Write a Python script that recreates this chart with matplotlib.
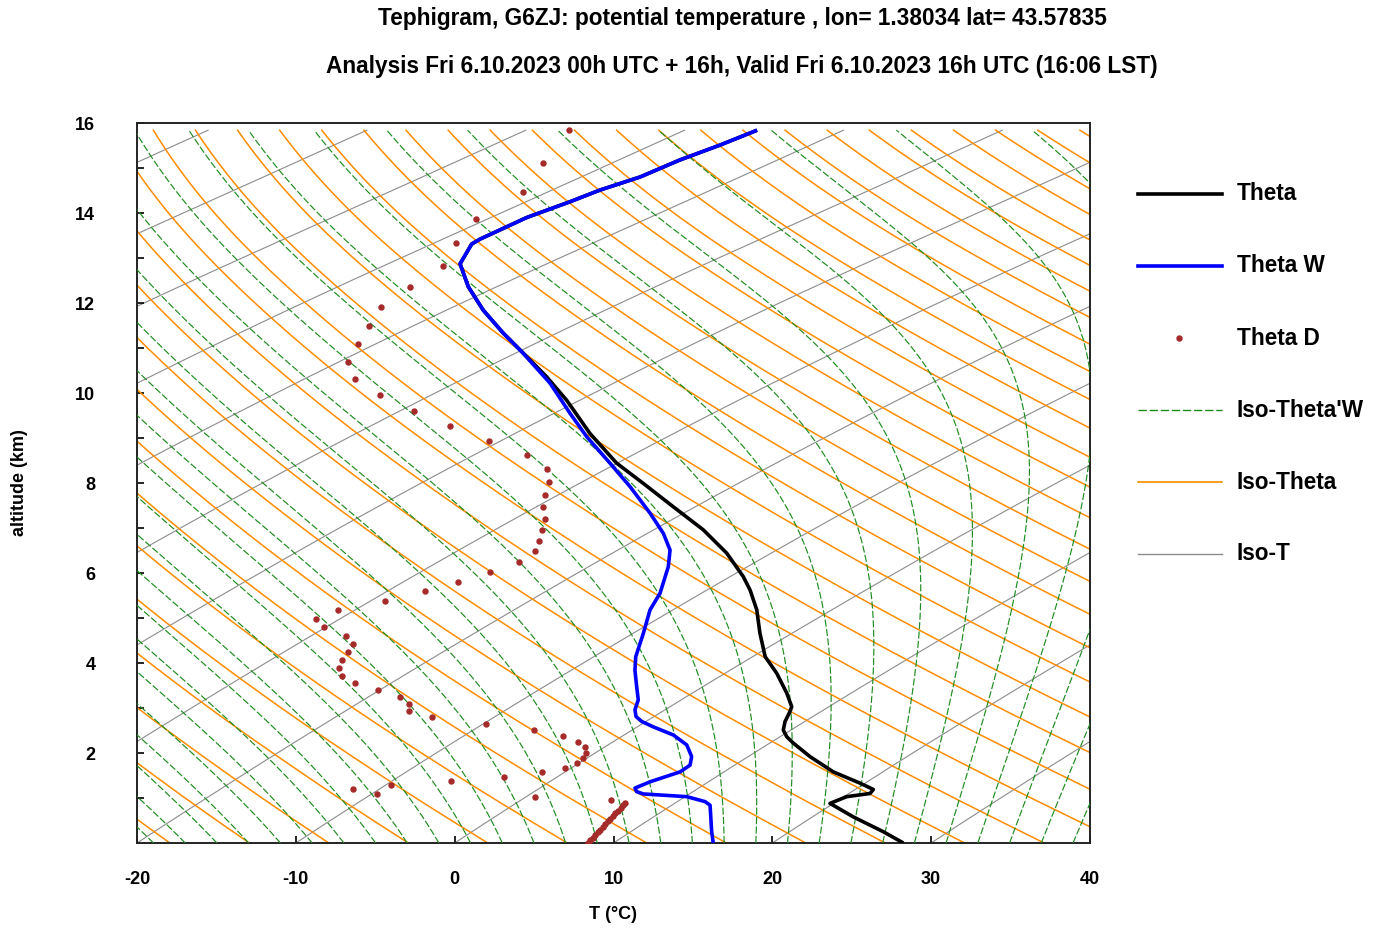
import numpy as np
import matplotlib
matplotlib.use("Agg")
import matplotlib.pyplot as plt
from matplotlib.lines import Line2D

plt.rcParams['font.family'] = ['Liberation Sans', 'DejaVu Sans']
plt.rcParams['font.weight'] = 'bold'

# ---------------- data ----------------
theta_z = [0.0, 0.25, 0.58, 0.88, 1.03, 1.10, 1.19, 1.33, 1.58, 1.92, 2.22, 2.36, 2.51,
           2.70, 2.92, 3.03, 3.33, 3.77, 4.14, 4.66, 5.18, 5.62, 5.92, 6.44, 6.96, 7.47,
           7.99, 8.44, 9.10, 9.84, 10.36, 10.96, 11.33, 11.84, 12.36, 12.87, 13.31, 13.42,
           13.90, 14.25, 14.51, 14.80, 15.18, 15.51, 15.84]
theta_x = [28.25, 26.99, 25.10, 23.63, 24.68, 26.15, 26.36, 25.52, 23.84, 22.37, 21.32,
           20.91, 20.69, 20.80, 21.11, 21.22, 20.91, 20.28, 19.55, 19.22, 19.02, 18.6,
           18.17, 17.13, 15.65, 13.77, 11.88, 10.20, 8.52, 7.05, 5.79, 4.11, 3.06, 1.80,
           0.86, 0.34, 1.07, 1.60, 4.54, 7.26, 9.15, 11.67, 14.19, 16.71, 19.04]

thetaw_z = [0.0, 0.25, 0.84, 0.92, 1.03, 1.09, 1.14, 1.22, 1.36, 1.58, 1.73, 1.92, 2.18,
            2.40, 2.58, 2.70, 2.81, 2.96, 3.18, 3.47, 3.84, 4.14, 4.66, 5.18, 5.55, 6.14,
            6.51, 6.88, 7.33, 7.92, 8.44, 9.03, 9.55, 10.22, 10.88, 11.33, 11.84, 12.36,
            12.87, 13.31, 13.42, 13.90, 14.25, 14.51, 14.80, 15.18, 15.51, 15.84]
thetaw_x = [16.28, 16.18, 16.08, 15.76, 14.61, 11.88, 11.46, 11.35, 12.30, 14.19, 14.82,
            14.92, 14.61, 13.77, 12.51, 11.78, 11.42, 11.35, 11.56, 11.46, 11.35, 11.40,
            11.88, 12.30, 12.93, 13.45, 13.56, 13.14, 12.30, 11.04, 9.78, 8.31, 7.26,
            6.00, 4.32, 3.06, 1.80, 0.86, 0.34, 1.07, 1.60, 4.54, 7.26, 9.15, 11.67,
            14.19, 16.71, 19.04]

thetad_z = [15.84, 15.12, 14.47, 13.87, 13.33, 12.83, 12.36, 11.91, 11.48, 11.08, 10.68,
            10.31, 9.95, 9.59, 9.26, 8.93, 8.62, 8.31, 8.02, 7.74, 7.47, 7.21, 6.96, 6.71,
            6.48, 6.24, 6.02, 5.80, 5.59, 5.38, 5.18, 4.98, 4.79, 4.61, 4.42, 4.24, 4.06,
            3.89, 3.72, 3.56, 3.39, 3.24, 3.08, 2.93, 2.79, 2.64, 2.51, 2.38, 2.25, 2.13,
            2.01, 1.90, 1.78, 1.67, 1.57, 1.47, 1.37, 1.28, 1.19, 1.10, 1.02, 0.95,
            0.88, 0.84, 0.78, 0.72, 0.66, 0.60, 0.54, 0.48, 0.42, 0.36, 0.30, 0.24,
            0.18, 0.12, 0.06, 0.01]
thetad_x = [7.22, 5.58, 4.28, 1.32, 0.08, -0.73, -2.83, -4.62, -5.39, -6.10, -6.70,
            -6.29, -4.68, -2.56, -0.27, 2.18, 4.55, 5.79, 5.94, 5.67, 5.58, 5.69, 5.52,
            5.31, 5.04, 4.03, 2.24, 0.21, -1.85, -4.37, -7.33, -8.75, -8.21, -6.84, -6.40,
            -6.72, -7.11, -7.28, -7.11, -6.26, -4.83, -3.46, -2.89, -2.89, -1.43, 1.95,
            5.01, 6.84, 7.77, 8.19, 8.27, 8.08, 7.68, 6.95, 5.48, 3.13, -0.21, -4.03,
            -6.38, -4.91, 5.08, 9.84,
            10.72, 10.60, 10.45, 10.28, 10.10, 9.95, 9.80, 9.63, 9.48, 9.33, 9.18, 9.02,
            8.86, 8.70, 8.55, 8.38]

x_ticks = [-20, -10, 0, 10, 20, 30, 40]
y_ticks = list(range(1, 17))
y_ticklabels = [str(v) if v % 2 == 0 else '' for v in y_ticks]

title1 = "Tephigram, G6ZJ: potential temperature , lon= 1.38034 lat= 43.57835"
title2 = "Analysis Fri 6.10.2023 00h UTC + 16h, Valid Fri 6.10.2023 16h UTC (16:06 LST)"

# ---------------- diagram background (skewed T / altitude) ----------------
C_SKEW = 38.0      # skew factor (deg C per unit ln p)
KAPPA = 0.2857
P_SURF = 1003.0    # hPa
Z_TOP = 15.84
G0, RD = 9.80665, 287.05

zg = np.linspace(0.0, Z_TOP, 900)
# hydrostatic ln(p_s/p) using the environment temperature of the profile
Lg = np.zeros_like(zg)
for i in range(1, len(zg)):
    zm = 0.5 * (zg[i - 1] + zg[i])
    Lpred = Lg[i - 1]
    for _ in range(2):
        Tenv = np.interp(zm, theta_z, theta_x) - C_SKEW * Lpred + 273.15
        dL = G0 / (RD * Tenv) * 1000.0 * (zg[i] - zg[i - 1])
        Lpred = Lg[i - 1] + 0.5 * dL
    Lg[i] = Lg[i - 1] + dL
pg = P_SURF * np.exp(-Lg)


def skew_x(Tk):
    return (Tk - 273.15) + C_SKEW * Lg


def dTdp(T, p):
    es = 6.112 * np.exp(17.67 * (T - 273.15) / (T - 29.65))
    rs = 0.622 * es / (p - es)
    Lv = 2.501e6
    cpd = 1005.7
    num = RD * T + Lv * rs
    den = cpd + Lv ** 2 * rs * 0.622 / (RD * T ** 2)
    return num / den / p


def rk4(T, p0, p1):
    h = p1 - p0
    k1 = dTdp(T, p0)
    k2 = dTdp(T + 0.5 * h * k1, p0 + 0.5 * h)
    k3 = dTdp(T + 0.5 * h * k2, p0 + 0.5 * h)
    k4 = dTdp(T + h * k3, p1)
    return T + h / 6.0 * (k1 + 2 * k2 + 2 * k3 + k4)


fig = plt.figure(figsize=(13.76, 9.30), dpi=100)
ax = fig.add_axes([137 / 1376, 87 / 930, 953 / 1376, 720 / 930])

# isotherms
for T0 in range(-150, 50, 10):
    ax.plot(skew_x(np.full_like(zg, T0 + 273.15)), zg, color='#8c8c8c', lw=0.8, zorder=1)

# dry adiabats
for th in range(200, 520, 5):
    Tk = th * (pg / 1000.0) ** KAPPA
    ax.plot(skew_x(Tk), zg, color='#ff8c00', lw=1.1, zorder=2)

# moist (pseudo) adiabats, theta'w every 2 K
thw = np.arange(230.0, 322.0, 2.0)
T = rk4(thw.copy(), 1000.0, pg[0])
Tm = [T.copy()]
for i in range(len(pg) - 1):
    T = rk4(T, pg[i], pg[i + 1])
    Tm.append(T.copy())
Tm = np.array(Tm)
for j in range(len(thw)):
    ax.plot(skew_x(Tm[:, j]), zg, color='#1e8c1e', lw=0.85, ls=(0, (6, 2)), zorder=3)

# ---------------- profiles ----------------
ax.plot(theta_x, theta_z, color='black', lw=2.6, zorder=5, solid_capstyle='butt')
ax.plot(thetaw_x, thetaw_z, color='#0000ff', lw=2.6, zorder=6, solid_capstyle='butt')
ax.plot(thetad_x, thetad_z, ls='none', marker='o', ms=3.6, color='#a52a2a',
        mec='#a52a2a', zorder=7)

ax.set_xlim(-20, 40)
ax.set_ylim(0, 16)
ax.set_xticks(x_ticks)
ax.set_xticklabels([str(v) for v in x_ticks])
ax.set_yticks(y_ticks)
ax.set_yticklabels(y_ticklabels)
ax.tick_params(axis='x', direction='in', length=5, width=1.2, pad=20, labelsize=13)
ax.tick_params(axis='y', direction='in', length=5, width=1.2, pad=30, labelsize=13)
for lab in ax.get_xticklabels() + ax.get_yticklabels():
    lab.set_fontweight('bold')
for s in ax.spines.values():
    s.set_linewidth(1.4)
    s.set_color('#222222')

fig.text(613 / 1376, 1 - 914 / 930, "T (°C)", ha='center', va='center', fontsize=13,
         fontweight='bold')
fig.text(20 / 1376, 1 - 483 / 930, "altitude (km)", ha='center', va='center', fontsize=13,
         fontweight='bold', rotation=90)
fig.text(742 / 1376, 1 - 18 / 930, title1, ha='center', va='center', fontsize=16.3,
         fontweight='bold')
fig.text(742 / 1376, 1 - 67 / 930, title2, ha='center', va='center', fontsize=16.3,
         fontweight='bold')

# ---------------- legend ----------------
leg_items = [
    ("Theta", dict(color='black', lw=2.6)),
    ("Theta W", dict(color='#0000ff', lw=2.6)),
    ("Theta D", None),
    ("Iso-Theta'W", dict(color='#1e8c1e', lw=1.0, ls=(0, (6, 2)))),
    ("Iso-Theta", dict(color='#ff8c00', lw=1.2)),
    ("Iso-T", dict(color='#8c8c8c', lw=1.0)),
]
for i, (lab, st) in enumerate(leg_items):
    yp = 1 - (194 + 72 * i) / 930
    if st is None:
        fig.add_artist(Line2D([1179 / 1376], [yp], transform=fig.transFigure, ls='none',
                              marker='o', ms=3.6, color='#a52a2a'))
    else:
        fig.add_artist(Line2D([1138 / 1376, 1222 / 1376], [yp, yp],
                              transform=fig.transFigure, **st))
    fig.text(1237 / 1376, yp, lab, ha='left', va='center', fontsize=16.3, fontweight='bold')

fig.savefig("out.png", dpi=100)
